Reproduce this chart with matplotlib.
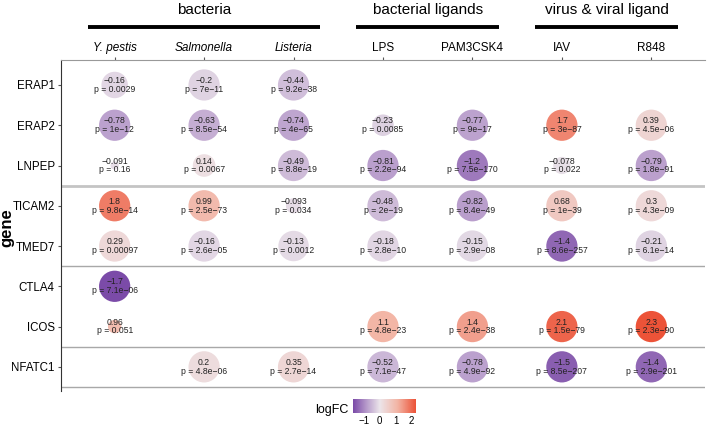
import numpy as np
import matplotlib
matplotlib.use("Agg")
import matplotlib.pyplot as plt
import matplotlib.transforms as mtransforms
from matplotlib.colors import LinearSegmentedColormap, TwoSlopeNorm

plt.rcParams['font.family'] = ['Liberation Sans', 'DejaVu Sans']

genes = ["ERAP1", "ERAP2", "LNPEP", "TICAM2", "TMED7", "CTLA4", "ICOS", "NFATC1"]
conditions = ["Y. pestis", "Salmonella", "Listeria", "LPS", "PAM3CSK4", "IAV", "R848"]
italic_cols = [True, True, True, False, False, False, False]

nan = np.nan
logfc = [
    [-0.16, -0.2, -0.44, nan, nan, nan, nan],
    [-0.78, -0.63, -0.74, -0.23, -0.77, 1.7, 0.39],
    [-0.091, 0.14, -0.49, -0.81, -1.2, -0.078, -0.79],
    [1.8, 0.99, -0.093, -0.48, -0.82, 0.68, 0.3],
    [0.29, -0.16, -0.13, -0.18, -0.15, -1.4, -0.21],
    [-1.7, nan, nan, nan, nan, nan, nan],
    [0.96, nan, nan, 1.1, 1.4, 2.1, 2.3],
    [nan, 0.2, 0.35, -0.52, -0.78, -1.5, -1.4],
]
pvals = [
    [0.0029, 7e-11, 9.2e-38, nan, nan, nan, nan],
    [1e-12, 8.5e-54, 4e-65, 0.0085, 9e-17, 3e-87, 4.5e-06],
    [0.16, 0.0067, 8.8e-19, 2.2e-94, 7.5e-170, 0.022, 1.8e-91],
    [9.8e-14, 2.5e-73, 0.034, 2e-19, 8.4e-49, 1e-39, 4.3e-09],
    [0.00097, 2.6e-05, 0.0012, 2.8e-10, 2.9e-08, 8.6e-257, 6.1e-14],
    [7.1e-06, nan, nan, nan, nan, nan, nan],
    [0.051, nan, nan, 4.8e-23, 2.4e-38, 1.5e-79, 2.3e-90],
    [nan, 4.8e-06, 2.7e-14, 7.1e-47, 4.9e-92, 8.5e-207, 2.9e-201],
]

groups = ["bacteria", "bacterial ligands", "virus & viral ligand"]
group_span = [(1, 3), (4, 5), (6, 7)]
separators = [3.5, 5.5, 7.5, 8.5]

logfc = np.array(logfc)
pvals = np.array(pvals)

cmap = LinearSegmentedColormap.from_list(
    "pr", ["#7b4ba8", "#b79bcb", "#ece5ea", "#f3b4a4", "#ec5338"])
norm = TwoSlopeNorm(vmin=-1.7, vcenter=0, vmax=2.3)

fig = plt.figure(figsize=(7.07, 4.26), dpi=100)
ax = fig.add_axes([61 / 707, 1 - 391 / 426, 644 / 707, 331 / 426])

xs, ys, sizes, cols = [], [], [], []
for i, g in enumerate(genes):
    for j, c in enumerate(conditions):
        v = logfc[i, j]
        if np.isnan(v):
            continue
        p = pvals[i, j]
        d = 22.5 * min(-np.log10(p), 3) / 3
        xs.append(j + 1)
        ys.append(i + 1)
        sizes.append(d ** 2)
        cols.append(v)
        lab = f"{v:.2g}\np = {p:.2g}".replace("-", "\u2212")
        ax.text(j + 1, i + 1, lab, ha="center", va="center", fontsize=6.2,
                linespacing=0.95, color="#222222", zorder=3)

ax.scatter(xs, ys, s=sizes, c=cols, cmap=cmap, norm=norm, linewidths=0, zorder=2)

for yy in separators:
    if yy == 3.5:
        ax.axhline(yy, color="#c4c4c4", lw=2, zorder=1)
    else:
        ax.axhline(yy, color="#a8a8a8", lw=1, zorder=1)

ax.set_xlim(0.4, 7.6)
ax.set_ylim(8.6, 0.38)
ax.set_yticks(range(1, len(genes) + 1))
ax.set_yticklabels(genes, fontsize=8.3)
ax.xaxis.tick_top()
ax.set_xticks(range(1, len(conditions) + 1))
ax.set_xticklabels(conditions, fontsize=8.5)
for lab, it in zip(ax.get_xticklabels(), italic_cols):
    if it:
        lab.set_style("italic")
ax.tick_params(axis="x", length=2.5, pad=2, color="#555555")
ax.tick_params(axis="y", length=2.5, pad=2, color="#555555")
ax.spines["right"].set_visible(False)
ax.spines["bottom"].set_visible(False)
ax.spines["top"].set_color("#999999")
ax.spines["left"].set_color("#333333")
fig.text(7 / 707, 1 - 228 / 426, "gene", rotation=90, ha="center", va="center",
         fontsize=12, fontweight="bold")

trans = mtransforms.blended_transform_factory(ax.transData, fig.transFigure)
for name, (a, b) in zip(groups, group_span):
    ax.plot([a - 0.3, b + 0.3], [1 - 27 / 426] * 2, color="black", lw=2.8,
            transform=trans, clip_on=False, solid_capstyle="butt")
    ax.text((a + b) / 2, 1 - 10 / 426, name, ha="center", va="center",
            fontsize=11, transform=trans)

cax = fig.add_axes([353 / 707, 1 - 413 / 426, 63 / 707, 14 / 426])
grad = np.linspace(-1.7, 2.3, 200)[None, :]
cax.imshow(grad, aspect="auto", cmap=cmap, norm=norm, extent=[-1.7, 2.3, 0, 1])
cax.set_xticks([-1, 0, 1, 2])
cax.set_xticklabels(["\u22121", "0", "1", "2"], fontsize=7)
cax.set_yticks([])
cax.tick_params(axis="x", length=0, pad=2)
for s in cax.spines.values():
    s.set_visible(False)
fig.text(348 / 707, 1 - 410 / 426, "logFC", ha="right", va="center", fontsize=9)

fig.savefig("out.png", dpi=100)
